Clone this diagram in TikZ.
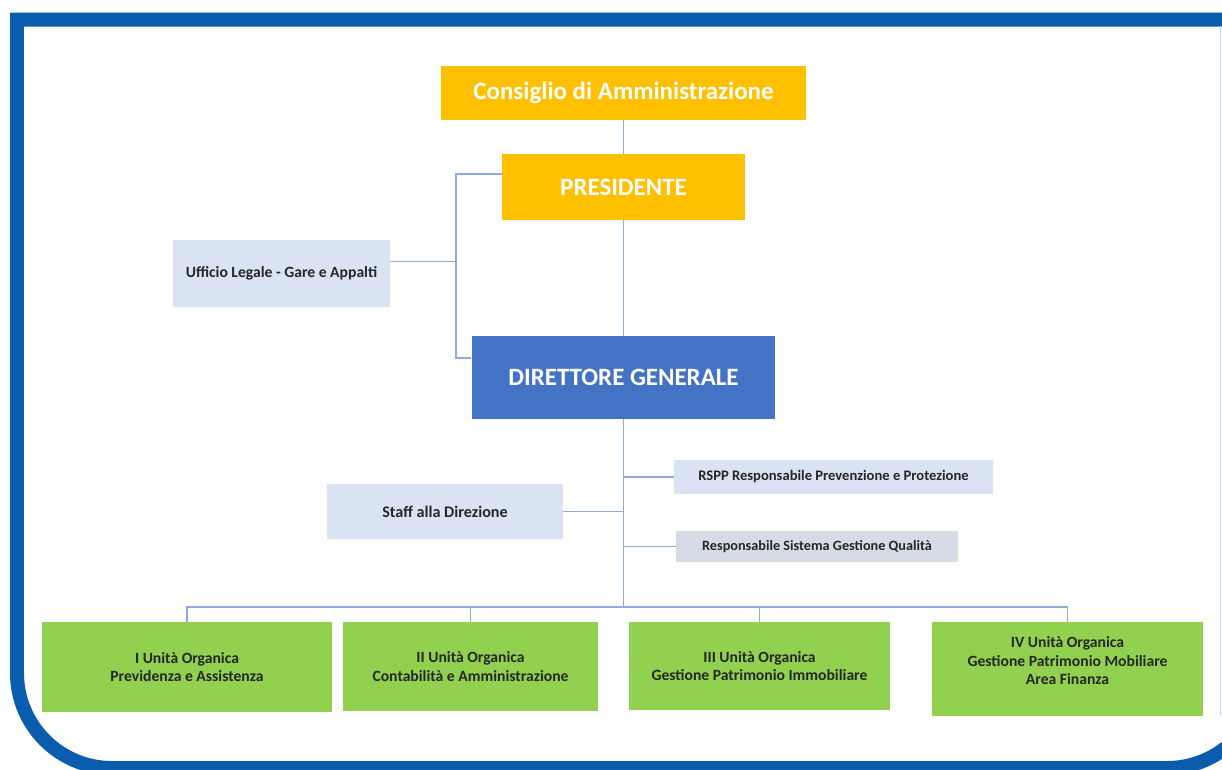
\documentclass[tikz,border=0pt]{standalone}
\usepackage{fontspec}
\setmainfont{Carlito}
\usetikzlibrary{calc}
\definecolor{cdagold}{HTML}{FFC000}
\definecolor{dgblue}{HTML}{4472C4}
\definecolor{stafffill}{HTML}{DAE3F3}
\definecolor{qualfill}{HTML}{D6DCE5}
\definecolor{uogreen}{HTML}{92D050}
\definecolor{linkblue}{HTML}{8FAADC}
\definecolor{framblue}{HTML}{0A5CAD}
\definecolor{edgeblue}{HTML}{BDD7EE}

\begin{document}
\begin{tikzpicture}[x=0.02cm, y=-0.02cm,
      topbox/.style = {rectangle, fill=cdagold, text=white, inner sep=0pt,
                       font=\fontsize{14.2}{16}\selectfont\bfseries},
       dgbox/.style = {rectangle, fill=dgblue, text=white, inner sep=0pt,
                       font=\fontsize{14.2}{16}\selectfont\bfseries},
    staffbox/.style = {rectangle, fill=stafffill, text=black!85, inner sep=0pt,
                       font=\fontsize{8.9}{10}\selectfont\bfseries},
     unitbox/.style = {rectangle, fill=uogreen, text=black!85, inner sep=0pt, align=center,
                       font=\fontsize{8.9}{10.5}\selectfont\bfseries},
        link/.style = {draw=linkblue, line width=1pt},
       frame/.style = {draw=framblue, line width=0.28cm}
                        ]
\useasboundingbox (0,0) rectangle (1222,769);
\clip (0,0) rectangle (1222,769);
% frame
\draw[frame] (1280,19.5) -- (17,19.5) -- (17,500) [rounded corners=1.9cm] -- (17,768) -- (1262,768) -- (1262,500);
\draw[edgeblue, line width=0.8pt] (1220.5,26) -- (1220.5,715);
% boxes
\node (cda)    [topbox, minimum width=7.30cm, minimum height=1.08cm] at (623.5,93)  {Consiglio di Amministrazione};
\node (pres)   [topbox, minimum width=4.86cm, minimum height=1.32cm] at (623.5,187) {PRESIDENTE};
\node (legale) [staffbox, minimum width=4.34cm, minimum height=1.34cm] at (281.5,273.5) {Ufficio Legale - Gare e Appalti};
\node (dg)     [dgbox, minimum width=6.08cm, minimum height=1.66cm] at (623.5,377.5) {DIRETTORE GENERALE};
\node (rspp)   [staffbox, font=\fontsize{8.3}{10}\selectfont\bfseries, minimum width=6.38cm, minimum height=0.68cm] at (833.5,477) {RSPP Responsabile Prevenzione e Protezione};
\node (staff)  [staffbox, font=\fontsize{9.2}{10}\selectfont\bfseries, minimum width=4.72cm, minimum height=1.10cm] at (445,511.5) {Staff alla Direzione};
\node (qual)   [staffbox, fill=qualfill, font=\fontsize{8.1}{10}\selectfont\bfseries, minimum width=5.64cm, minimum height=0.62cm] at (817,546.5) {Responsabile Sistema Gestione Qualità};
\node (uo1)    [unitbox, minimum width=5.80cm, minimum height=1.80cm] at (187,667)    {I Unità Organica\\Previdenza e Assistenza};
\node (uo2)    [unitbox, minimum width=5.10cm, minimum height=1.78cm] at (470.5,666.5) {II Unità Organica\\Contabilità e Amministrazione};
\node (uo3)    [unitbox, minimum width=5.22cm, minimum height=1.76cm] at (759.5,666)  {III Unità Organica\\Gestione Patrimonio Immobiliare};
\node (uo4)    [unitbox, minimum width=5.42cm, minimum height=1.88cm] at (1067.5,669) {IV Unità Organica\\Gestione Patrimonio Mobiliare\\Area Finanza\\[-1pt]};
\coordinate (bus) at (623.5,607);
% links
\draw[link] (cda) to (pres);
\draw[link] (pres) to (dg);
\draw[link] ($(pres.west)+(0,-13)$) -| ($(dg.west)+(-15,-19.5)$) -- ($(dg.west)+(0,-19.5)$);
\draw[link] ($(legale.east)+(0,-12)$) -- ++(66,0);
\draw[link] (dg.south) -- (bus);
\draw[link] (rspp.west) -- (rspp.west -| dg.south);
\draw[link] (staff.east) -- (staff.east -| dg.south);
\draw[link] (qual.west) -- (qual.west -| dg.south);
\draw[link] (uo1.north) |- (bus) -| (uo4.north);
\draw[link] (uo2.north) -- (uo2.north |- bus);
\draw[link] (uo3.north) -- (uo3.north |- bus);
\end{tikzpicture}
\end{document}
